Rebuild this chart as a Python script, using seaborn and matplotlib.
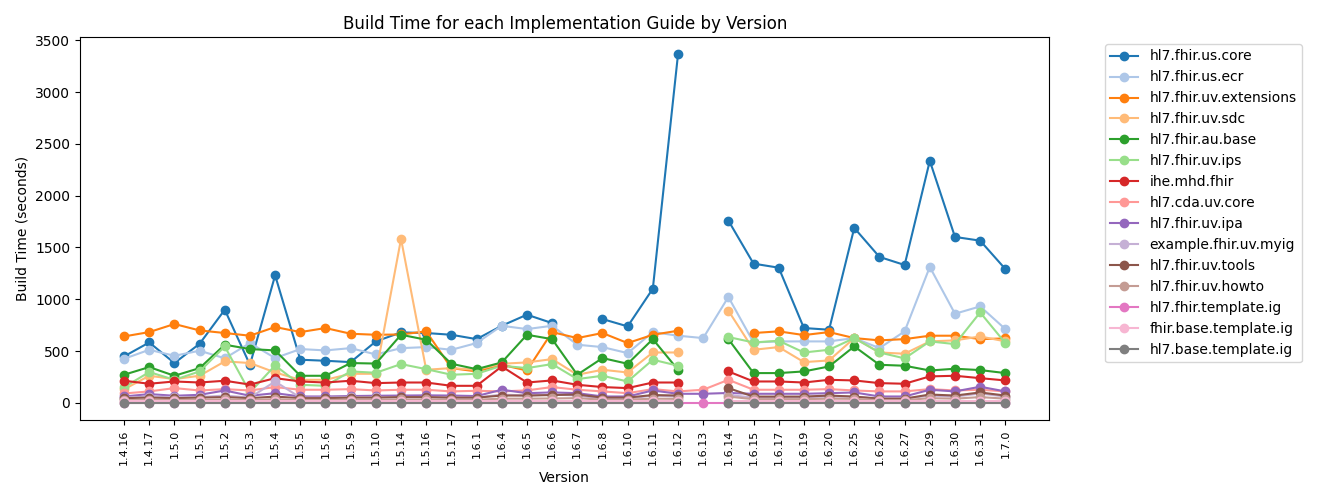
import numpy as np
import pandas as pd
import matplotlib
matplotlib.use("Agg")
import matplotlib.pyplot as plt
import seaborn as sns

nan = np.nan

versions = ["1.4.16", "1.4.17", "1.5.0", "1.5.1", "1.5.2", "1.5.3", "1.5.4", "1.5.5", "1.5.6",
            "1.5.9", "1.5.10", "1.5.14", "1.5.16", "1.5.17", "1.6.1", "1.6.4", "1.6.5", "1.6.6",
            "1.6.7", "1.6.8", "1.6.10", "1.6.11", "1.6.12", "1.6.13", "1.6.14", "1.6.15", "1.6.17",
            "1.6.19", "1.6.20", "1.6.25", "1.6.26", "1.6.27", "1.6.29", "1.6.30", "1.6.31", "1.7.0"]

us_core = [448, 583, 384, 570, 899, 367, 1231, 416, 406, 393, 593, 680, 674, 657, 615, 744, 851, 770,
           nan, 809, 738, 1102, 3365, nan, 1760, 1344, 1305, 722, 706, 1689, 1409, 1331, 2337, 1602, 1566, 1292]
us_ecr = [425, 512, 454, 503, 430, 577, 432, 519, 506, 528, 467, 528, 538, 512, 577, 744, 712, 744,
          561, 538, 480, 683, 648, 625, 1022, 583, 593, 593, 593, 625, 528, 690, 1312, 860, 931, 712]
uv_extensions = [641, 683, 761, 699, 674, 648, 732, 683, 722, 667, 657, 660, 690, 335, 303, 367, 312, 683,
                 625, 674, 577, 657, 696, nan, nan, 674, 690, 654, 683, 625, 603, 615, 648, 648, 615, 622]
uv_sdc = [130, 261, 229, 261, 400, 384, 293, 222, 222, 280, 280, 1583, 319, 335, 319, 377, 390, 422,
          271, 319, 293, 486, 486, nan, 890, 512, 538, 393, 409, 625, 486, 474, 593, 603, 641, 593]
au_base = [271, 345, 261, 335, 561, 519, 506, 261, 261, 384, 379, 657, 609, 377, 325, 390, 657, 615,
           271, 432, 377, 615, 319, nan, 615, 287, 287, 303, 351, 545, 367, 358, 312, 329, 316, 287]
uv_ips = [150, 297, 222, 303, 544, 100, 361, 174, 164, 303, 290, 374, 325, 271, 280, 358, 335, 374,
          229, 261, 206, 416, 358, nan, 635, 583, 599, 486, 512, 625, 486, 429, 593, 567, 873, 577]
ihe_mhd = [213, 184, 206, 196, 213, 176, 238, 206, 196, 213, 190, 196, 196, 164, 164, 351, 196, 216,
           174, 152, 142, 196, 196, nan, 303, 206, 206, 196, 222, 216, 190, 184, 255, 261, 238, 216]
cda_uv_core = [90, 110, 142, 119, 132, 119, 152, 126, 126, 132, 119, 126, 126, 110, 116, 110, 120, 152,
               126, 110, 93, 132, 110, 126, 222, 126, 126, 126, 132, 119, 110, 110, 132, 119, 126, 110]
uv_ipa = [61, 84, 68, 77, 119, 68, 93, 61, 61, 65, 68, 70, 72, 70, 65, 126, 93, 100,
          93, 61, 61, 119, 87, 87, 95, 87, 87, 87, 93, 100, 61, 61, 126, 110, 155, 110]
myig = [50, 60, 55, 55, 70, 50, 206, 50, 50, 55, 55, 55, 55, 50, 50, 80, 70, 80,
        70, 40, 40, 70, 60, nan, 75, 50, 50, 55, 60, 60, 40, 40, 70, 60, 90, 60]
uv_tools = [45, 50, 45, 50, 55, 45, 60, 45, 45, 50, 50, 55, 55, 50, 50, 70, 70, 75,
            80, 50, 50, 75, 70, nan, 142, 60, 60, 60, 70, 60, 40, 40, 80, 70, 100, 70]
uv_howto = [25, 30, 28, 30, 32, 28, 35, 28, 28, 30, 30, 32, 32, 30, 30, 40, 40, 42,
            45, 30, 30, 40, 38, nan, 60, 35, 35, 35, 40, 38, 25, 25, 45, 40, 55, 40]
template_ig = [2] * 36
fhir_base_template = [15, 15, 15, 15, 15, 15, 15, 15, 15, 15, 15, 15, 15, 15, 15, 15, 15, 15,
                      15, 15, 15, 15, 15, nan, 15, 15, 15, 15, 15, 15, 15, 15, 15, 15, 15, 15]
base_template = [2, 2, 2, 2, 2, 2, 2, 2, 2, 2, 2, 2, 2, 2, 2, 2, 2, 2,
                 2, 2, 2, 2, 2, nan, 2, 2, 2, 2, 2, 2, 2, 2, 2, 2, 2, 2]

series_names = ["hl7.fhir.us.core", "hl7.fhir.us.ecr", "hl7.fhir.uv.extensions", "hl7.fhir.uv.sdc",
                "hl7.fhir.au.base", "hl7.fhir.uv.ips", "ihe.mhd.fhir", "hl7.cda.uv.core",
                "hl7.fhir.uv.ipa", "example.fhir.uv.myig", "hl7.fhir.uv.tools", "hl7.fhir.uv.howto",
                "hl7.fhir.template.ig", "fhir.base.template.ig", "hl7.base.template.ig"]
series_values = [us_core, us_ecr, uv_extensions, uv_sdc, au_base, uv_ips, ihe_mhd, cda_uv_core,
                 uv_ipa, myig, uv_tools, uv_howto, template_ig, fhir_base_template, base_template]

palette = sns.color_palette("tab20", 20)

fig, ax = plt.subplots(figsize=(13.2, 5.0), dpi=100)
fig.subplots_adjust(left=0.0606, right=0.795, top=0.926, bottom=0.16)

xs = np.arange(len(versions))
handles = []
for i, (name, vals) in enumerate(zip(series_names, series_values)):
    color = palette[i]
    v = np.array(vals, dtype=float)
    mask = ~np.isnan(v)
    # split into contiguous runs so missing versions break the line
    runs = []
    start = None
    for k in range(len(v)):
        if mask[k] and start is None:
            start = k
        if (not mask[k]) and start is not None:
            runs.append((start, k))
            start = None
    if start is not None:
        runs.append((start, len(v)))
    for j, (a, b) in enumerate(runs):
        df = pd.DataFrame({"x": xs[a:b], "y": v[a:b]})
        sns.lineplot(data=df, x="x", y="y", ax=ax, color=color, marker="o",
                     markersize=6, markeredgecolor=color, markeredgewidth=1,
                     linewidth=1.5, label=name if j == 0 else None, legend=False,
                     estimator=None, sort=False)

ax.set_xticks(xs)
ax.set_xticklabels(versions, rotation=90, fontsize=8)
ax.set_title("Build Time for each Implementation Guide by Version", fontsize=12)
ax.set_xlabel("Version")
ax.set_ylabel("Build Time (seconds)")
ax.margins(x=0.05, y=0.05)

h, l = ax.get_legend_handles_labels()
ax.legend(h, l, loc="upper left", bbox_to_anchor=(1.05, 1))

fig.savefig("out.png", dpi=100)
